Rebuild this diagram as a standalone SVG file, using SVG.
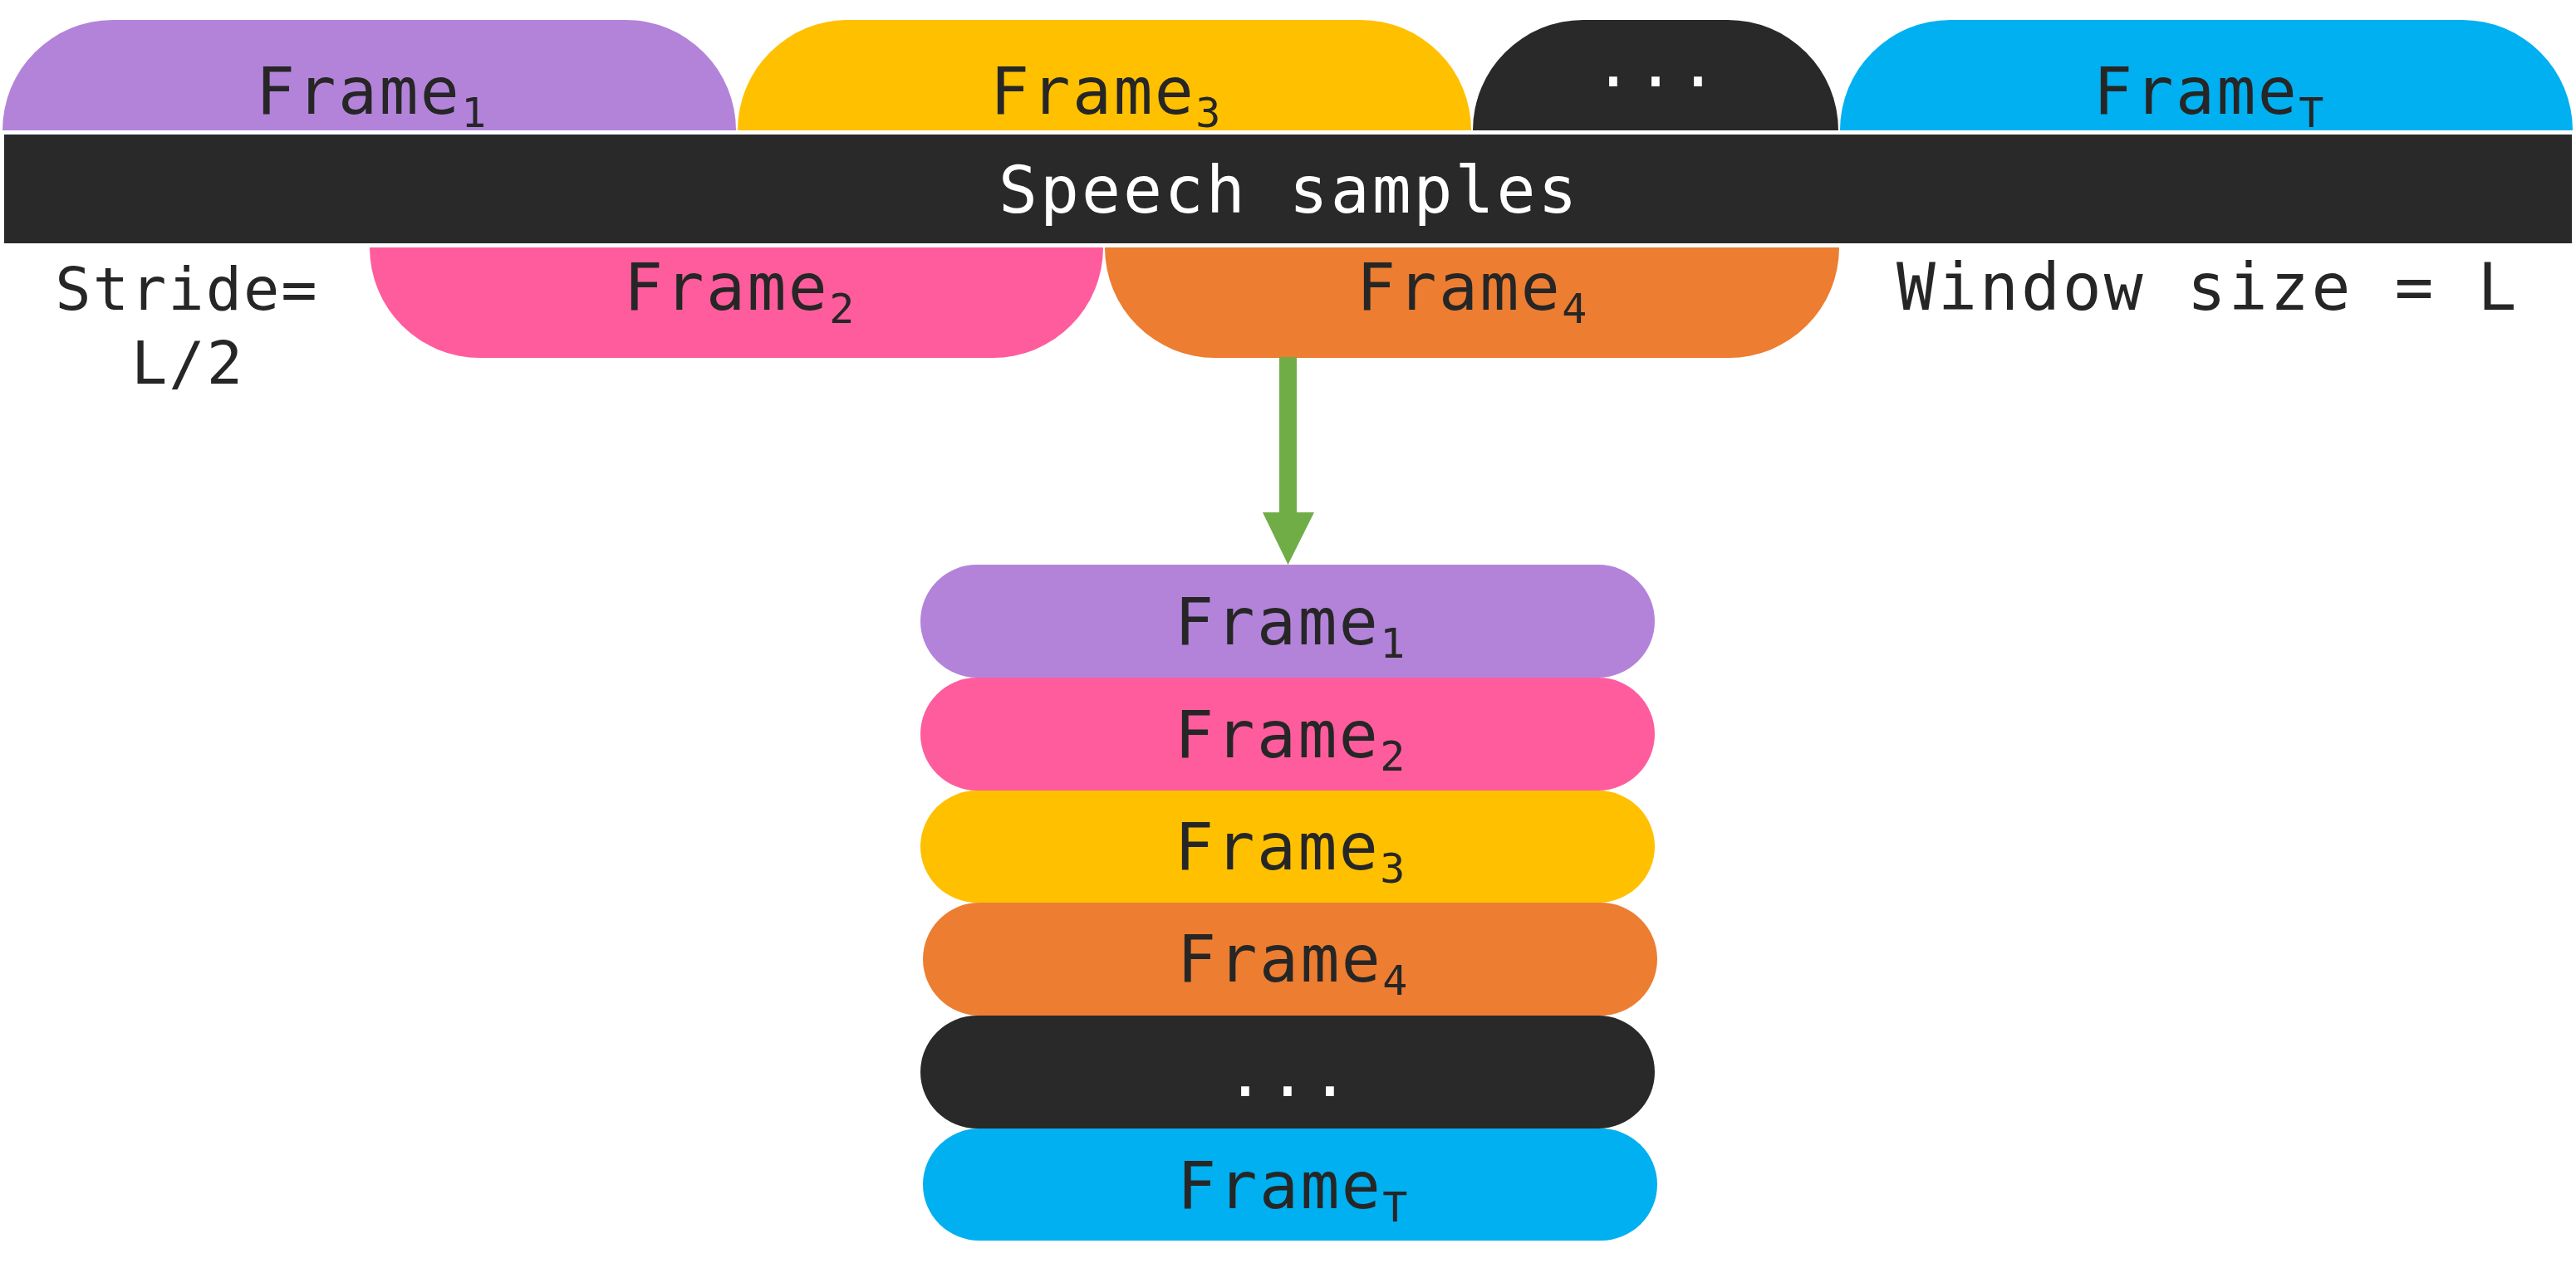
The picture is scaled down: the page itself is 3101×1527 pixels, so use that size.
<svg xmlns="http://www.w3.org/2000/svg" width="3101" height="1527" viewBox="0 0 3101 1527">
<style>
.t{font-family:"DejaVu Sans Mono","Liberation Mono",monospace;font-size:78px;letter-spacing:2.5px;fill:#262626}
.w{fill:#ffffff}
.sub{font-size:50px}
.purple{fill:#B383DA}
.pink{fill:#FF5C9D}
.yellow{fill:#FFC000}
.orange{fill:#ED7D31}
.dark{fill:#292929}
.blue{fill:#00B0F0}
</style>
<rect width="3101" height="1527" fill="#ffffff"/>
<g id="speech-samples">
<rect class="dark" x="5" y="162" width="3091" height="131"/>
<text class="t w" x="1202" y="256" style="letter-spacing:3px">Speech samples</text>
</g>
<g id="top-frame1">
<path class="purple" d="M3,157 A133,133 0 0 1 136,24 H753 A133,133 0 0 1 886,157 Z"/>
<text class="t" x="308" y="137">Frame<tspan class="sub" dy="16">1</tspan></text>
</g>
<g id="top-frame3">
<path class="yellow" d="M888,157 A133,133 0 0 1 1021,24 H1638 A133,133 0 0 1 1771,157 Z"/>
<text class="t" x="1192" y="137">Frame<tspan class="sub" dy="16">3</tspan></text>
</g>
<g id="top-dots">
<path class="dark" d="M1773,157 A133,133 0 0 1 1906,24 H2080 A133,133 0 0 1 2213,157 Z"/>
<text class="t w" x="1995" y="104" text-anchor="middle" style="letter-spacing:4px">...</text>
</g>
<g id="top-frameT">
<path class="blue" d="M2215,157 A133,133 0 0 1 2348,24 H2964 A133,133 0 0 1 3097,157 Z"/>
<text class="t" x="2520" y="137">Frame<tspan class="sub" dy="16">T</tspan></text>
</g>
<g id="bottom-frame2">
<path class="pink" d="M445,298 H1328 A133,133 0 0 1 1195,431 H578 A133,133 0 0 1 445,298 Z"/>
<text class="t" x="751" y="373">Frame<tspan class="sub" dy="16">2</tspan></text>
</g>
<g id="bottom-frame4">
<path class="orange" d="M1330,298 H2214 A133,133 0 0 1 2081,431 H1463 A133,133 0 0 1 1330,298 Z"/>
<text class="t" x="1633" y="373">Frame<tspan class="sub" dy="16">4</tspan></text>
</g>
<g id="stride-label">
<text class="t" style="font-size:72px;letter-spacing:2px" text-anchor="middle"><tspan x="225" y="373">Stride=</tspan><tspan x="226" y="462">L/2</tspan></text>
</g>
<g id="window-label">
<text class="t" x="2283" y="373" style="letter-spacing:3px">Window size = L</text>
</g>
<g id="connectors">
<rect x="1540" y="430" width="21" height="188" fill="#70AD47"/>
<polygon points="1520,617 1582,617 1550.5,680" fill="#70AD47"/>
</g>
<g id="stack-frame1">
<rect class="purple" x="1108" y="680" width="884" height="136" rx="68" ry="68"/>
<text class="t" x="1414" y="776">Frame<tspan class="sub" dy="16">1</tspan></text>
</g>
<g id="stack-frame2">
<rect class="pink" x="1108" y="816" width="884" height="136" rx="68" ry="68"/>
<text class="t" x="1414" y="912">Frame<tspan class="sub" dy="16">2</tspan></text>
</g>
<g id="stack-frame3">
<rect class="yellow" x="1108" y="952" width="884" height="135" rx="68" ry="68"/>
<text class="t" x="1414" y="1047">Frame<tspan class="sub" dy="16">3</tspan></text>
</g>
<g id="stack-frame4">
<rect class="orange" x="1111" y="1087" width="884" height="136" rx="68" ry="68"/>
<text class="t" x="1417" y="1182">Frame<tspan class="sub" dy="16">4</tspan></text>
</g>
<g id="stack-dots">
<rect class="dark" x="1108" y="1223" width="884" height="136" rx="68" ry="68"/>
<text class="t w" x="1552" y="1320" text-anchor="middle" style="letter-spacing:4px">...</text>
</g>
<g id="stack-frameT">
<rect class="blue" x="1111" y="1359" width="884" height="135" rx="68" ry="68"/>
<text class="t" x="1417" y="1455">Frame<tspan class="sub" dy="16">T</tspan></text>
</g>
</svg>
